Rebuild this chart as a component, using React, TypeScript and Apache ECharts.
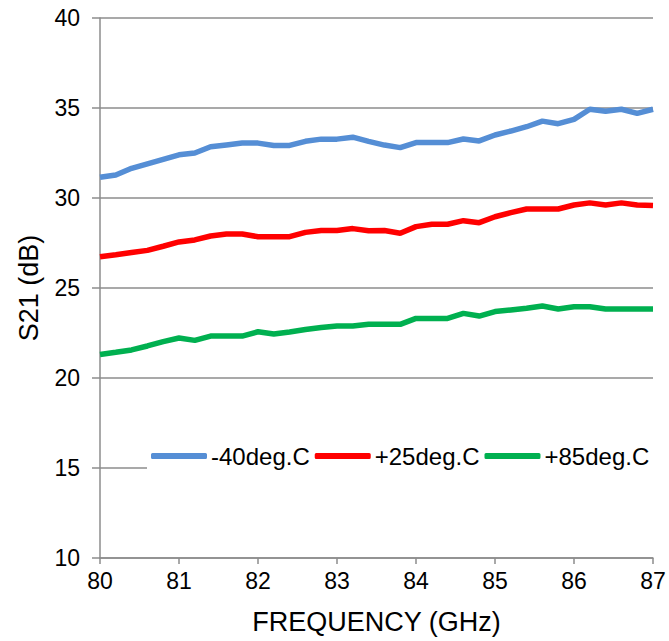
import React, { useEffect, useRef } from "react";
import * as echarts from "echarts";

const freqs = [
  80.0, 80.2, 80.4, 80.6, 80.8, 81.0, 81.2, 81.4, 81.6, 81.8,
  82.0, 82.2, 82.4, 82.6, 82.8, 83.0, 83.2, 83.4, 83.6, 83.8,
  84.0, 84.2, 84.4, 84.6, 84.8, 85.0, 85.2, 85.4, 85.6, 85.8,
  86.0, 86.2, 86.4, 86.6, 86.8, 87.0,
];

const s21Minus40 = [
  31.15, 31.28, 31.65, 31.9, 32.15, 32.4, 32.5, 32.85, 32.95, 33.05,
  33.05, 32.92, 32.92, 33.15, 33.27, 33.27, 33.38, 33.15, 32.94, 32.8,
  33.08, 33.08, 33.08, 33.28, 33.17, 33.5, 33.72, 33.96, 34.27, 34.13,
  34.37, 34.93, 34.82, 34.93, 34.7, 34.93,
];

const s21Plus25 = [
  26.74, 26.85, 26.97, 27.09, 27.32, 27.56, 27.67, 27.89, 28.0, 28.0,
  27.85, 27.85, 27.85, 28.09, 28.2, 28.2, 28.3, 28.18, 28.19, 28.04,
  28.41, 28.54, 28.54, 28.74, 28.63, 28.96, 29.19, 29.39, 29.39, 29.39,
  29.61, 29.73, 29.61, 29.73, 29.61, 29.58,
];

const s21Plus85 = [
  21.31, 21.43, 21.56, 21.78, 22.02, 22.22, 22.09, 22.33, 22.33, 22.33,
  22.57, 22.44, 22.56, 22.69, 22.8, 22.89, 22.89, 22.99, 22.98, 22.98,
  23.31, 23.31, 23.31, 23.59, 23.44, 23.69, 23.78, 23.87, 24.0, 23.83,
  23.96, 23.96, 23.83, 23.83, 23.83, 23.83,
];

const seriesNames = ["-40deg.C", "+25deg.C", "+85deg.C"];
const seriesColors = ["#558ED5", "#FF0000", "#00B050"];
const seriesValues = [s21Minus40, s21Plus25, s21Plus85];

const FONT = "'Liberation Sans', Arial, sans-serif";

export default function App() {
  const ref = useRef<HTMLDivElement>(null);
  useEffect(() => {
    if (!ref.current) return;
    const chart = echarts.init(ref.current, undefined, { renderer: "svg" });
    chart.setOption({
      animation: false,
      backgroundColor: "#ffffff",
      grid: { left: 100, right: 16, top: 18, bottom: 83 },
      legend: {
        data: seriesNames,
        left: 147,
        top: 441,
        backgroundColor: "#ffffff",
        padding: [3, 4],
        itemGap: 5,
        itemWidth: 56,
        itemHeight: 6,
        icon: "roundRect",
        textStyle: { fontFamily: FONT, fontSize: 24, color: "#000", padding: [0, 0, 0, -1] },
      },
      xAxis: {
        type: "value",
        min: 80,
        max: 87,
        interval: 1,
        name: "FREQUENCY (GHz)",
        nameLocation: "middle",
        nameGap: 50,
        nameTextStyle: { fontFamily: FONT, fontSize: 27, color: "#000" },
        axisLine: { show: true, lineStyle: { color: "#8c8c8c", width: 1.5 } },
        axisTick: { show: true, length: 6, lineStyle: { color: "#8c8c8c", width: 1.5 } },
        axisLabel: { fontFamily: FONT, fontSize: 23, color: "#000", margin: 11 },
        splitLine: { show: false },
      },
      yAxis: {
        type: "value",
        min: 10,
        max: 40,
        interval: 5,
        name: "S21 (dB)",
        nameLocation: "middle",
        nameGap: 58,
        nameTextStyle: { fontFamily: FONT, fontSize: 27, color: "#000" },
        axisLine: { show: true, lineStyle: { color: "#8c8c8c", width: 1.5 } },
        axisTick: { show: true, length: 8, lineStyle: { color: "#8c8c8c", width: 1.5 } },
        axisLabel: { fontFamily: FONT, fontSize: 23, color: "#000", margin: 20 },
        splitLine: { show: true, lineStyle: { color: "#8c8c8c", width: 1.5 } },
      },
      series: seriesNames.map((name, i) => ({
        name,
        type: "line",
        data: freqs.map((f, j) => [f, seriesValues[i][j]]),
        showSymbol: false,
        symbol: "none",
        color: seriesColors[i],
        lineStyle: { color: seriesColors[i], width: 5.5 },
        itemStyle: { color: seriesColors[i] },
      })),
    });
    return () => chart.dispose();
  }, []);
  return <div ref={ref} style={{ width: 669, height: 641, position: "absolute", left: 0, top: 0 }} />;
}
